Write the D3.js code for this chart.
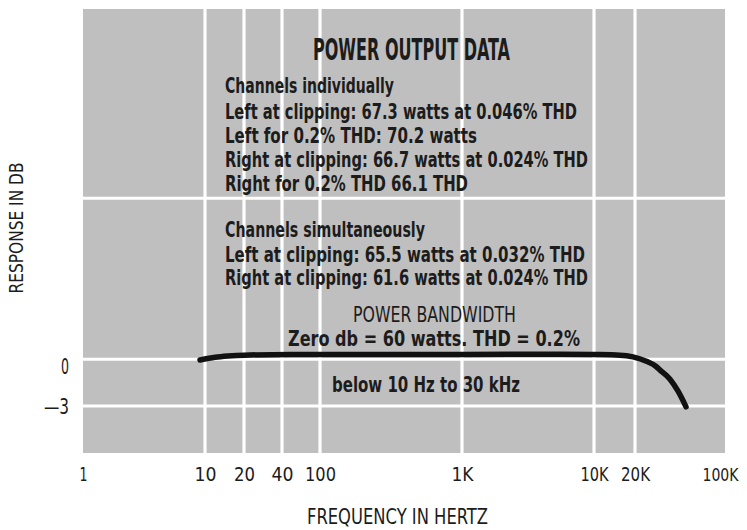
<!DOCTYPE html>
<html><head><meta charset="utf-8">
<script src="https://cdn.jsdelivr.net/npm/d3@7"></script>
<style>body{margin:0;background:#fff}svg{display:block}</style>
</head><body><svg id="c" width="747" height="530"></svg>
<script>
// ---- data ----
const freqTicks = [1, 10, 20, 40, 100, 1000, 10000, 20000, 100000];
const freqTickLabels = ["1", "10", "20", "40", "100", "1K", "10K", "20K", "100K"];
const freqGrid = [10, 20, 40, 100, 1000, 10000, 20000];
const dbTicks = [0, -3];
const dbTickLabels = ["0", "\u20143"];
const dbGrid = [-3, 0, 10.3];
const responseFreq = [9.1, 12, 15, 20, 50, 100, 1000, 5500, 10000, 15500, 19300, 24800, 29000, 31300, 37400, 43200, 49800];
const responseDb   = [-0.05, 0.12, 0.2, 0.26, 0.3, 0.3, 0.3, 0.32, 0.3, 0.26, 0.15, -0.15, -0.45, -0.7, -1.28, -2.05, -3.05];
const headline = "POWER OUTPUT DATA";
const noteIndividual = ["Channels  individually",
  "Left at clipping: 67.3 watts at 0.046% THD",
  "Left for 0.2% THD: 70.2 watts",
  "Right at clipping: 66.7 watts at 0.024% THD",
  "Right for 0.2% THD 66.1 THD"];
const noteSimultaneous = ["Channels  simultaneously",
  "Left at clipping: 65.5 watts at 0.032% THD",
  "Right at clipping: 61.6 watts at 0.024% THD"];
const bandwidthTitle = "POWER BANDWIDTH";
const bandwidthNotes = ["Zero db = 60 watts. THD = 0.2%", "below 10 Hz to 30 kHz"];
const xTitle = "FREQUENCY IN HERTZ";
const yTitle = "RESPONSE IN DB";

// ---- layout ----
const svg = d3.select("#c");
const FONT = "'DejaVu Sans Condensed','Liberation Sans Narrow',sans-serif";
const x = d3.scaleLog().domain(freqTicks).range([83, 205, 244, 282, 320, 462, 594, 635, 725]);
const y = d3.scaleLinear().domain([-6, 22.4]).range([453, 9]);
const ink = "#1c1c1c";
const tickW = [8, 22, 21, 22, 31, 22, 28, 29, 36];

svg.append("rect")
  .attr("x", x(1)).attr("y", y(22.4))
  .attr("width", x(100000) - x(1)).attr("height", y(-6) - y(22.4))
  .attr("fill", "#bfbfbf");

svg.append("g").selectAll("line").data(freqGrid).join("line")
  .attr("x1", d => x(d)).attr("x2", d => x(d))
  .attr("y1", y(22.4)).attr("y2", y(-6))
  .attr("stroke", "#fff").attr("stroke-width", 3.2);
svg.append("g").selectAll("line").data(dbGrid).join("line")
  .attr("x1", x(1)).attr("x2", x(100000))
  .attr("y1", d => y(d)).attr("y2", d => y(d))
  .attr("stroke", "#fff").attr("stroke-width", 3);

// axes (ticks as text only)
const xAxis = d3.axisBottom(x).tickValues(freqTicks)
  .tickFormat((d, i) => freqTickLabels[i]).tickSize(0).tickPadding(0);
const gx = svg.append("g").attr("transform", "translate(0,481)").call(xAxis);
gx.select(".domain").remove();
const last = freqTicks.length - 1;
gx.selectAll("text").attr("dy", 0).attr("y", 0)
  .attr("x", (d, i) => i === last ? -5 : 0)
  .attr("font-family", FONT).attr("font-size", (d, i) => i === last ? 17 : 20).attr("fill", ink)
  .attr("textLength", (d, i) => tickW[i]).attr("lengthAdjust", "spacingAndGlyphs");

const yAxis = d3.axisLeft(y).tickValues(dbTicks)
  .tickFormat((d, i) => dbTickLabels[i]).tickSize(0).tickPadding(0);
const gy = svg.append("g").attr("transform", "translate(69,0)").call(yAxis);
gy.select(".domain").remove();
gy.selectAll("text").attr("font-family", FONT).attr("font-size", 21).attr("fill", ink)
  .attr("dy", (d) => d === 0 ? "0.68em" : "0.35em")
  .attr("textLength", (d, i) => i === 0 ? 8 : 25).attr("lengthAdjust", "spacingAndGlyphs");

// curve
const pts = responseFreq.map((f, i) => [f, responseDb[i]]);
svg.append("path").datum(pts)
  .attr("d", d3.line().x(d => x(d[0])).y(d => y(d[1])).curve(d3.curveMonotoneX))
  .attr("fill", "none").attr("stroke", "#111").attr("stroke-width", 5.5)
  .attr("stroke-linecap", "round").attr("stroke-linejoin", "round");

// text helper
function txt(s, xx, yy, w, size, weight, anchor) {
  return svg.append("text").text(s)
    .attr("x", xx).attr("y", yy)
    .attr("font-family", FONT).attr("font-size", size)
    .attr("font-weight", weight || "bold").attr("fill", ink)
    .attr("text-anchor", anchor || "start")
    .attr("textLength", w).attr("lengthAdjust", "spacingAndGlyphs");
}
txt(headline, 313, 60, 197, 31);
const indY = [93, 119, 143, 167, 191];
const indW = [169, 352, 252, 363, 243];
noteIndividual.forEach((s, i) => txt(s, 225, indY[i], indW[i], 22));
const simY = [237, 262, 285];
const simW = [200, 360, 363];
noteSimultaneous.forEach((s, i) => txt(s, 225, simY[i], simW[i], 22));
txt(bandwidthTitle, 353, 322, 163, 22, "normal");
txt(bandwidthNotes[0], 288, 346, 292, 22);
txt(bandwidthNotes[1], 332, 392, 188, 22);

txt(xTitle, 307, 524, 181, 21, "normal");
svg.append("text").text(yTitle)
  .attr("transform", "translate(23,228) rotate(-90)")
  .attr("text-anchor", "middle")
  .attr("font-family", FONT).attr("font-size", 19).attr("fill", ink)
  .attr("textLength", 131).attr("lengthAdjust", "spacingAndGlyphs");
</script></body></html>
